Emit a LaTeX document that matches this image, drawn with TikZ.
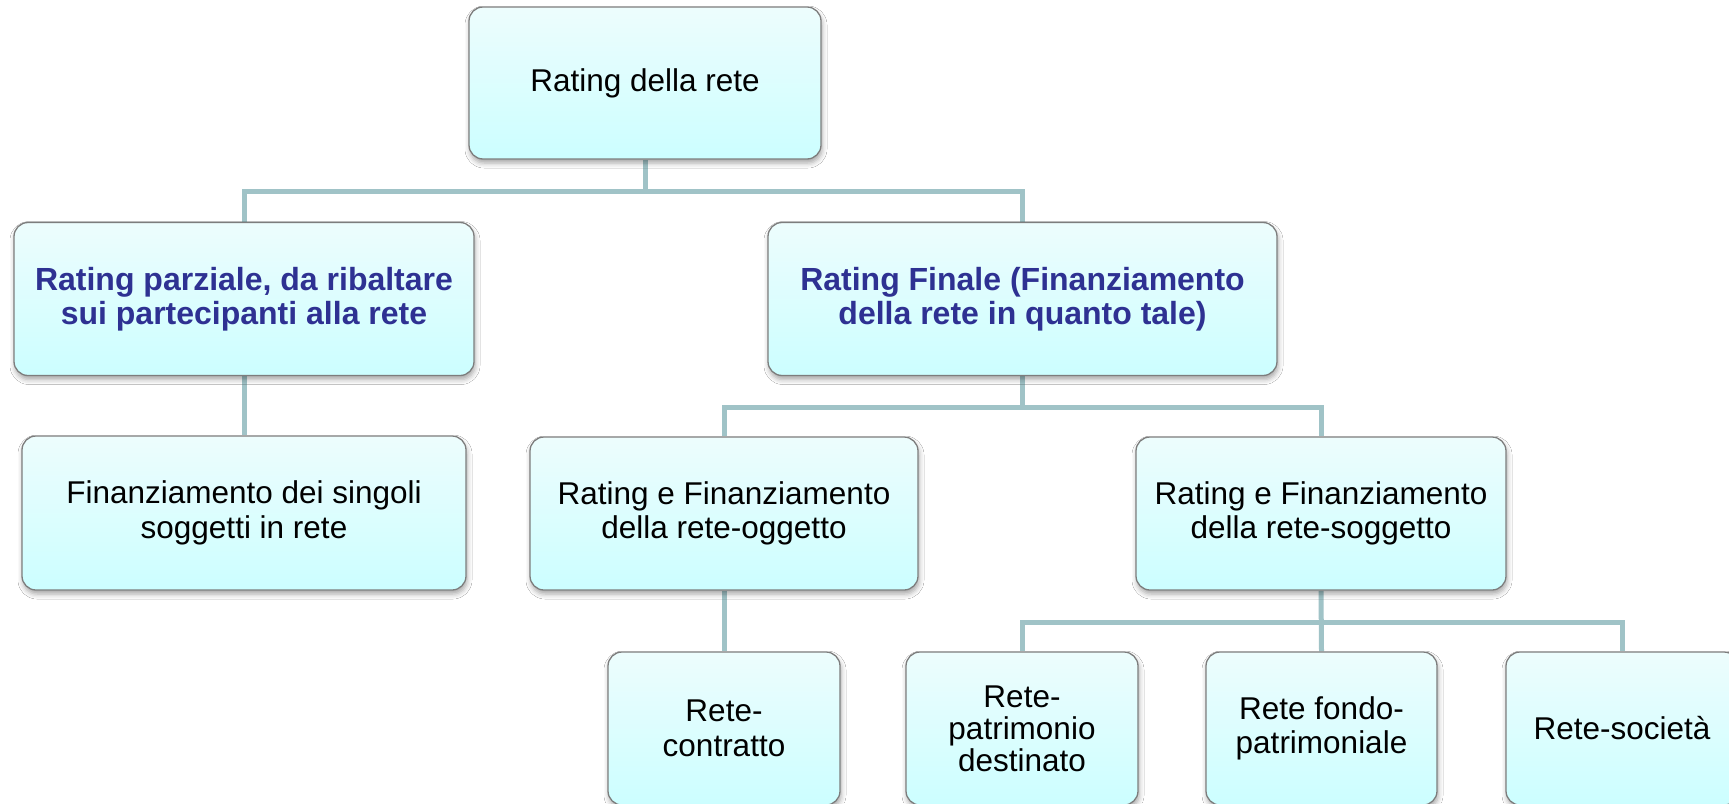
\documentclass[tikz,border=0pt]{standalone}
\usepackage{fontspec}
\setmainfont{Liberation Sans}
\usetikzlibrary{shadows.blur,backgrounds}

\definecolor{boxtop}{RGB}{237,253,253}
\definecolor{boxbot}{RGB}{204,254,255}
\definecolor{boxline}{RGB}{125,125,125}
\definecolor{linkcol}{RGB}{160,195,199}
\definecolor{headblue}{RGB}{46,49,146}

\begin{document}
\begin{tikzpicture}[x=1pt,y=-1pt,
  box/.style={draw=boxline, line width=1.3pt, rounded corners=14pt,
    top color=boxtop, bottom color=boxbot, inner sep=0pt, align=center,
    font=\fontsize{31.5}{34.5}\selectfont,
    blur shadow={shadow xshift=1pt, shadow yshift=-4pt,
      shadow blur radius=5pt, shadow opacity=35}},
  head/.style={box, text=headblue, font=\fontsize{32}{34.5}\selectfont\bfseries},
  link/.style={draw=linkcol, line width=5pt}]

\useasboundingbox (0,0) rectangle (1729,803);

% top level
\node[box, minimum width=352pt, minimum height=152pt] (root) at (645,83) {Rating della rete};

% second level
\node[head, minimum width=460pt, minimum height=153pt] (part) at (244,299)
  {Rating parziale, da ribaltare\\sui partecipanti alla rete};
\node[head, minimum width=509pt, minimum height=153pt] (fin) at (1022.5,299)
  {Rating Finale (Finanziamento\\della rete in quanto tale)};

% third level
\node[box, minimum width=444pt, minimum height=154pt] (sing) at (244,513)
  {Finanziamento dei singoli\\soggetti in rete};
\node[box, minimum width=388pt, minimum height=153pt] (ogg) at (724,513.5)
  {Rating e Finanziamento\\della rete-oggetto};
\node[box, minimum width=370pt, minimum height=153pt] (sogg) at (1321,513.5)
  {Rating e Finanziamento\\della rete-soggetto};

% fourth level
\node[box, minimum width=232pt, minimum height=153pt] (contr) at (724,728.5)
  {Rete-\\contratto};
\node[box, minimum width=232pt, minimum height=153pt, font=\fontsize{31.5}{32}\selectfont] (patr) at (1022,728.5)
  {Rete-\\patrimonio\\destinato};
\node[box, minimum width=231pt, minimum height=153pt] (fondo) at (1321.5,728.5)
  {Rete fondo-\\patrimoniale};
\node[box, minimum width=232pt, minimum height=153pt] (soc) at (1622,728.5)
  {Rete-società};

% connectors, drawn beneath the boxes
\coordinate (j1) at (645,191);
\coordinate (j2) at (1022.5,407);
\coordinate (j3) at (1321,622);
\begin{scope}[on background layer]
  \fill[white] (0,0) rectangle (1729,803);
  \draw[link] (root.south) -- (j1);
  \draw[link] (part.north) -- (part.north |- j1) -| (fin.north);
  \draw[link] (part.south) -- (sing.north);
  \draw[link] (fin.south) -- (j2);
  \draw[link] (ogg.north) -- (ogg.north |- j2) -| (sogg.north);
  \draw[link] (ogg.south) -- (contr.north);
  \draw[link] (sogg.south) -- (fondo.north);
  \draw[link] (patr.north) -- (patr.north |- j3) -| (soc.north);
\end{scope}
\end{tikzpicture}
\end{document}
